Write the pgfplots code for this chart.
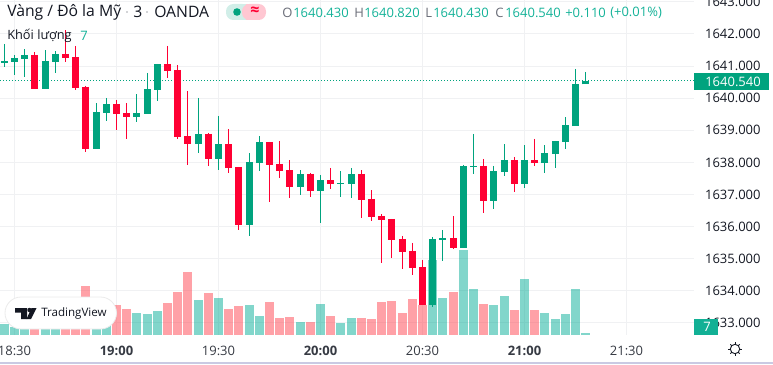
\documentclass[border=0pt]{standalone}
\usepackage{pgfplots}
\usepackage{pgfplotstable}
\usepackage{fontspec}
\pgfplotsset{compat=1.18}
\setmainfont{Open Sans}
\definecolor{cup}{HTML}{00A37E}
\definecolor{cdown}{HTML}{FF0033}
\definecolor{vup}{HTML}{05AD97}
\definecolor{vdown}{HTML}{FF4450}
\definecolor{gridc}{HTML}{F0F1F3}
\definecolor{txt}{HTML}{131722}
\definecolor{hdr}{HTML}{14B298}
\definecolor{gry}{HTML}{6A6D78}
\pgfplotstableread{
k o h l c
-1 1641.10 1641.69 1640.98 1641.16
0 1641.13 1641.35 1640.72 1641.25
1 1641.22 1641.52 1640.67 1641.35
2 1641.35 1641.44 1640.29 1640.29
3 1640.29 1641.50 1640.29 1641.16
4 1641.13 1641.47 1640.80 1641.38
5 1641.38 1642.12 1641.13 1641.25
6 1641.28 1641.63 1640.26 1640.32
7 1640.35 1640.38 1638.32 1638.42
8 1638.42 1639.85 1638.42 1639.57
9 1639.54 1640.01 1639.29 1639.82
10 1639.82 1639.94 1639.01 1639.51
11 1639.54 1639.85 1638.73 1639.41
12 1639.41 1640.13 1639.26 1639.54
13 1639.51 1640.79 1639.51 1640.29
14 1640.26 1641.07 1639.91 1641.07
15 1641.07 1641.63 1640.63 1640.85
16 1640.88 1641.03 1638.73 1638.79
17 1638.82 1640.22 1637.92 1638.57
18 1638.57 1640.01 1638.29 1638.89
19 1638.89 1638.92 1637.89 1638.11
20 1638.11 1639.45 1637.76 1638.57
21 1638.57 1639.04 1637.67 1637.83
22 1637.86 1637.86 1635.89 1636.05
23 1636.05 1638.29 1635.71 1638.01
24 1637.98 1638.82 1637.73 1638.64
25 1638.64 1638.64 1636.77 1637.92
26 1637.95 1638.67 1637.51 1637.73
27 1637.76 1638.07 1636.89 1637.23
28 1637.23 1637.76 1636.98 1637.64
29 1637.64 1637.67 1636.92 1637.11
30 1637.11 1637.61 1636.11 1637.45
31 1637.45 1637.83 1637.17 1637.33
32 1637.33 1637.73 1636.92 1637.36
33 1637.33 1637.83 1636.89 1637.64
34 1637.64 1637.76 1636.27 1636.83
35 1636.86 1637.14 1636.17 1636.30
36 1636.33 1636.39 1634.87 1636.21
37 1636.24 1636.24 1635.02 1635.58
38 1635.61 1635.71 1634.68 1635.21
39 1635.24 1635.49 1634.49 1634.71
40 1634.74 1634.96 1633.56 1633.56
41 1633.56 1635.68 1633.50 1635.61
42 1635.58 1635.89 1634.93 1635.65
43 1635.65 1636.33 1635.30 1635.33
44 1635.33 1637.92 1635.33 1637.89
45 1637.86 1638.89 1637.64 1637.89
46 1637.89 1638.11 1636.42 1636.80
47 1636.80 1637.89 1636.55 1637.73
48 1637.70 1638.57 1637.58 1638.07
49 1638.07 1638.17 1637.08 1637.33
50 1637.33 1638.54 1637.20 1638.07
51 1638.07 1638.73 1637.89 1637.98
52 1637.98 1638.54 1637.67 1638.29
53 1638.26 1638.67 1637.83 1638.67
54 1638.64 1639.41 1638.42 1639.17
55 1639.13 1640.91 1639.13 1640.44
56 1640.43 1640.82 1640.43 1640.54
}\candles
\pgfplotstableread{
k v
-1 38.5
0 28
1 28
3 42
4 49
8 49
9 42
12 77
13 73.5
14 84
18 122.5
20 129.5
23 105
24 66.5
28 45.5
30 108.5
32 42
33 59.5
41 262.5
42 129.5
44 297.5
45 161
47 105
48 136.5
50 196
52 77
53 56
54 73.5
55 161
56 7
}\volup
\pgfplotstableread{
k v
2 52.5
5 35
6 49
7 171.5
10 105
11 91
15 112
16 150.5
17 220.5
19 147
21 91
22 101.5
25 115.5
26 59.5
27 63
29 45.5
31 66.5
34 59.5
35 56
36 115.5
37 119
38 77
39 126
40 105
43 150.5
46 108.5
49 87.5
51 87.5
}\voldown
\pgfplotsset{base/.style={at={(0pt,21.75pt)},anchor=south west,scale only axis,
  width=520.5pt,height=251.25pt,xmin=-1.4216,xmax=66.618}}
\newcommand{\fs}[1]{\fontsize{#1}{#1}\selectfont}
\begin{document}
\begin{tikzpicture}
\useasboundingbox (0,0) rectangle (579.75pt,273pt);
% grid and tick labels
\begin{axis}[base,ymin=1632.623,ymax=1643.059,
  axis line style={draw=none},major tick length=0pt,
  grid=major,grid style={gridc,line width=0.75pt},
  ytick={1633,1634,1635,1636,1637,1638,1639,1640,1641,1642,1643},
  yticklabels={1633.000,1634.000,1635.000,1636.000,1637.000,1638.000,1639.000,1640.000,1641.000,1642.000,1643.000},
  xtick={0,10,...,60},
  xticklabels={18:30,\textbf{19:00},19:30,\textbf{20:00},20:30,\textbf{21:00},21:30},
  ticklabel pos=right,xticklabel pos=bottom,
  yticklabel style={anchor=west,inner sep=0pt,xshift=8.1pt,font=\fs{9.75pt},text=txt},
  xticklabel style={inner sep=0pt,anchor=north,yshift=-7.8pt,font=\fs{9.75pt},text=txt!85!white},
]
\addplot[draw=none] coordinates {(0,1640)};
\end{axis}
% volume
\begin{axis}[base,hide axis,ymin=0,ymax=1172.5]
\addplot[ycomb,vup,line width=6.75pt,opacity=0.5] table[x=k,y=v] {\volup};
\addplot[ycomb,vdown,line width=6.75pt,opacity=0.5] table[x=k,y=v] {\voldown};
\end{axis}
% candles
\begin{axis}[base,hide axis,ymin=1632.623,ymax=1643.059]
\addplot[cup,line width=0.85pt,dash pattern=on 0.85pt off 1.4pt] coordinates {(-1.4216,1640.54) (66.618,1640.54)};
\pgfplotstablegetrowsof{\candles}
\pgfmathtruncatemacro\lastrow{\pgfplotsretval-1}
\pgfplotsforeachungrouped \i in {0,...,\lastrow}{
  \pgfplotstablegetelem{\i}{k}\of\candles \let\vk\pgfplotsretval
  \pgfplotstablegetelem{\i}{o}\of\candles \let\vo\pgfplotsretval
  \pgfplotstablegetelem{\i}{h}\of\candles \let\vh\pgfplotsretval
  \pgfplotstablegetelem{\i}{l}\of\candles \let\vl\pgfplotsretval
  \pgfplotstablegetelem{\i}{c}\of\candles \let\vc\pgfplotsretval
  \ifdim\vc pt<\vo pt \def\col{cdown}\else\def\col{cup}\fi
  \edef\temp{\noexpand\addplot[\col,line width=0.75pt] coordinates {(\vk,\vh) (\vk,\vl)};
    \noexpand\addplot[\col,line width=5.25pt] coordinates {(\vk,\vo) (\vk,\vc)};}
  \temp
}
\end{axis}
% furniture in image pixel coordinates
\begin{scope}[x=0.75pt,y=-0.75pt,shift={(0pt,273pt)}]
\draw[color=black!12!white!90!blue,line width=1.1pt] (0,363) -- (773,363);
% price label
\fill[cup] (694,72.7) rectangle (769,90);
\node[anchor=west,inner sep=0pt,text=white,font=\fs{9.75pt}] at (705,81.5) {1640.540};
% volume label
\fill[hdr!90!cup] (694,319) rectangle (718,335);
\node[inner sep=0pt,text=white,font=\fs{9.75pt}] at (707,327) {7};
% settings icon
\draw[txt,line width=0.7pt] (735,349) circle (4.7);
\foreach \a in {0,45,...,315} \draw[txt,line width=0.7pt] (735,349)++(\a:4.7) -- ++(\a:1.9);
% header
\node[anchor=west,inner sep=0pt,text=txt,font=\fs{11.8pt}] at (7,12) {Vàng / Đô la Mỹ};
\fill[gry!60!white] (127,12) circle (0.8);
\node[anchor=west,inner sep=0pt,text=txt,font=\fs{11.8pt}] at (133,12) {3};
\fill[gry!60!white] (147,12) circle (0.8);
\node[anchor=west,inner sep=0pt,text=txt,font=\fs{11.8pt}] at (154,12) {OANDA};
\fill[cup!18!white,rounded corners=5.5pt] (226,4) rectangle (250,20);
\fill[cup!18!white] (236,4) rectangle (246,20);
\fill[cdown!22!white,rounded corners=5.5pt] (242,4) rectangle (266,20);
\fill[cdown!22!white] (246,4) rectangle (256,20);
\fill[cup] (237,12) circle (3.8);
\node[inner sep=0pt,text=cdown,font=\fs{12pt}\bfseries] at (255,11.5) {≈};
\foreach \xx/\t/\c in {282/O/gry,293/1640.430/hdr,354/H/gry,364/1640.820/hdr,425/L/gry,433/1640.430/hdr,495/C/gry,505/1640.540/hdr,565/+0.110/hdr,610/(+0.01\%)/hdr}
  \node[anchor=west,inner sep=0pt,text=\c,font=\fs{9.75pt}] at (\xx,12.5) {\t};
\node[anchor=west,inner sep=0pt,text=txt,font=\fs{9.6pt}] at (7,36) {Khối lượng};
\node[anchor=west,inner sep=0pt,text=hdr,font=\fs{9.75pt}] at (80,36) {7};
% watermark
\filldraw[fill=white,draw=black!8,line width=0.6pt,rounded corners=12pt] (5,297) rectangle (116.5,329);
\fill[txt] (15,308) -- (27,308) -- (27,319) -- (21,319) -- (21,312.5) -- (15,312.5) -- cycle;
\fill[txt] (29.5,310) circle (2.2);
\fill[txt] (31.5,308) -- (36.5,308) -- (31,319) -- (26.5,319) -- cycle;
\node[anchor=west,inner sep=0pt,text=txt,font=\fs{8.7pt}] at (41,313.5) {TradingView};
\end{scope}
\end{tikzpicture}
\end{document}
